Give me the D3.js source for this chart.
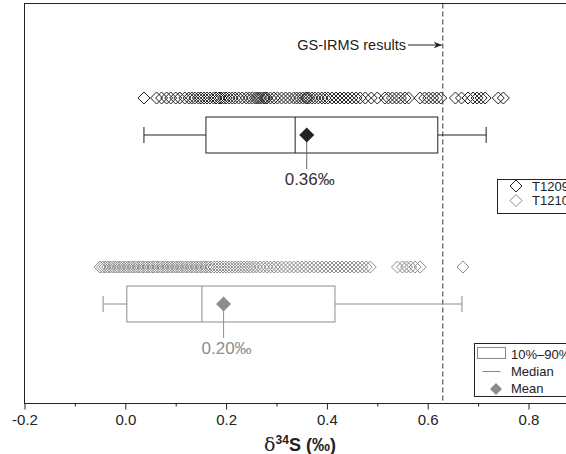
<!DOCTYPE html>
<html>
<head>
<meta charset="utf-8">
<script src="https://cdn.jsdelivr.net/npm/d3@7"></script>
<style>
  html, body { margin: 0; padding: 0; background: #fff; overflow: hidden; }
  svg { display: block; font-family: "Liberation Sans", Arial, sans-serif; }
</style>
</head>
<body>
<div id="chart"></div>
<script>
// delta34S values (per mil)
var groups = ["T1209", "T1210"];

var t1209 = [0.037, 0.062, 0.072, 0.082, 0.09, 0.1, 0.108, 0.118, 0.126, 0.132, 0.138, 0.145, 0.15,
  0.156, 0.162, 0.168, 0.175, 0.18, 0.18, 0.186, 0.19, 0.195, 0.2, 0.206, 0.212, 0.218, 0.225, 0.232,
  0.24, 0.246, 0.252, 0.258, 0.262, 0.266, 0.27, 0.275, 0.278, 0.281, 0.288, 0.295, 0.302, 0.31, 0.318,
  0.326, 0.334, 0.34, 0.346, 0.352, 0.358, 0.36, 0.364, 0.37, 0.376, 0.383, 0.39, 0.396, 0.402, 0.41,
  0.418, 0.426, 0.434, 0.442, 0.45, 0.458, 0.466, 0.476, 0.488, 0.5, 0.515, 0.522, 0.53, 0.538, 0.546,
  0.555, 0.562, 0.585, 0.594, 0.602, 0.61, 0.618, 0.626, 0.655, 0.667, 0.68, 0.69, 0.698, 0.706, 0.714,
  0.74, 0.75];

var t1210 = [-0.05, -0.045, -0.04, -0.035, -0.03, -0.025, -0.02, -0.015, -0.01, -0.005, 0.0, 0.005,
  0.01, 0.015, 0.02, 0.025, 0.03, 0.035, 0.04, 0.045, 0.05, 0.055, 0.06, 0.065, 0.07, 0.075, 0.08,
  0.085, 0.09, 0.095, 0.1, 0.105, 0.11, 0.115, 0.12, 0.125, 0.13, 0.135, 0.14, 0.145, 0.15, 0.155,
  0.16, 0.165, 0.17, 0.176, 0.182, 0.188, 0.194, 0.2, 0.206, 0.212, 0.218, 0.224, 0.23, 0.236, 0.242,
  0.248, 0.254, 0.26, 0.267, 0.274, 0.281, 0.288, 0.295, 0.302, 0.31, 0.318, 0.326, 0.334, 0.342,
  0.35, 0.358, 0.366, 0.374, 0.382, 0.39, 0.398, 0.406, 0.414, 0.422, 0.43, 0.438, 0.446, 0.454,
  0.462, 0.47, 0.478, 0.486, 0.54, 0.55, 0.558, 0.566, 0.575, 0.585, 0.67];

// box stats: whisker low, 10%, median, 90%, whisker high, mean
var boxLow = [0.037, -0.044];
var boxQ10 = [0.16, 0.003];
var boxMedian = [0.337, 0.152];
var boxQ90 = [0.62, 0.416];
var boxHigh = [0.716, 0.668];
var boxMean = [0.36, 0.195];
var meanLabels = ["0.36‰", "0.20‰"];
var groupColors = ["#222222", "#8c8c8c"];

var gsIrms = 0.63;
var xTicks = [-0.2, 0.0, 0.2, 0.4, 0.6, 0.8];
var xMinor = [-0.1, 0.1, 0.3, 0.5, 0.7];

var W = 566, H = 454;
var plotLeft = 24.5, plotTop = 3.5, plotBottom = 403.5;

var x = d3.scaleLinear().domain([-0.2, 0.9]).range([plotLeft, plotLeft + 1.1 * 504]);
var y = d3.scalePoint().domain(groups).range([135, 304]);

var svg = d3.select("#chart").append("svg")
  .attr("width", W)
  .attr("height", H);

function diamond(r) {
  return "M0," + (-r) + "L" + r + ",0L0," + r + "L" + (-r) + ",0Z";
}

// frame
svg.append("rect")
  .attr("x", plotLeft).attr("y", plotTop)
  .attr("width", x.range()[1] - plotLeft + 10).attr("height", plotBottom - plotTop)
  .attr("fill", "none").attr("stroke", "#222").attr("stroke-width", 1);

// GS-IRMS line
svg.append("line")
  .attr("x1", x(gsIrms)).attr("x2", x(gsIrms))
  .attr("y1", plotTop).attr("y2", plotBottom)
  .attr("stroke", "#333").attr("stroke-width", 1)
  .attr("stroke-dasharray", "5,3");

svg.append("defs").append("marker")
  .attr("id", "arrow").attr("viewBox", "0 0 10 10")
  .attr("refX", 10).attr("refY", 5)
  .attr("markerWidth", 8).attr("markerHeight", 8)
  .attr("markerUnits", "userSpaceOnUse")
  .attr("orient", "auto")
  .append("path").attr("d", "M0,1L10,5L0,9L3,5Z").attr("fill", "#222");

svg.append("text")
  .attr("x", 406).attr("y", 50)
  .attr("text-anchor", "end")
  .style("font-size", "14.5px").attr("fill", "#222")
  .text("GS-IRMS results");

svg.append("line")
  .attr("x1", 408).attr("x2", x(gsIrms) - 1)
  .attr("y1", 45).attr("y2", 45)
  .attr("stroke", "#222").attr("stroke-width", 1)
  .attr("marker-end", "url(#arrow)");

// scatter rows
[t1209, t1210].forEach(function(vals, i) {
  var g = svg.append("g");
  g.selectAll("path").data(vals).enter().append("path")
    .attr("d", diamond(6))
    .attr("transform", function(d) { return "translate(" + x(d) + "," + (y(groups[i]) - 37) + ")"; })
    .attr("fill", "none")
    .attr("stroke", groupColors[i])
    .attr("stroke-width", 1);
});

// boxes
groups.forEach(function(name, i) {
  var cy = y(name), c = groupColors[i], h = 18;
  var g = svg.append("g").attr("stroke", c).attr("stroke-width", 1).attr("fill", "none");
  g.append("line").attr("x1", x(boxLow[i])).attr("x2", x(boxQ10[i])).attr("y1", cy).attr("y2", cy);
  g.append("line").attr("x1", x(boxQ90[i])).attr("x2", x(boxHigh[i])).attr("y1", cy).attr("y2", cy);
  g.append("line").attr("x1", x(boxLow[i])).attr("x2", x(boxLow[i])).attr("y1", cy - 8).attr("y2", cy + 8);
  g.append("line").attr("x1", x(boxHigh[i])).attr("x2", x(boxHigh[i])).attr("y1", cy - 8).attr("y2", cy + 8);
  g.append("rect").attr("x", x(boxQ10[i])).attr("y", cy - h)
    .attr("width", x(boxQ90[i]) - x(boxQ10[i])).attr("height", 2 * h);
  g.append("line").attr("x1", x(boxMedian[i])).attr("x2", x(boxMedian[i])).attr("y1", cy - h).attr("y2", cy + h);
  // leader to mean label
  g.append("line").attr("x1", x(boxMean[i])).attr("x2", x(boxMean[i]))
    .attr("y1", cy + 6).attr("y2", cy + 34).attr("stroke", i ? c : "#666");
  svg.append("path").attr("d", diamond(7.5))
    .attr("transform", "translate(" + x(boxMean[i]) + "," + cy + ")")
    .attr("fill", c);
  svg.append("text")
    .attr("x", x(boxMean[i]) + 3).attr("y", cy + 50)
    .attr("text-anchor", "middle")
    .style("font-size", "17px")
    .attr("fill", i ? c : "#333")
    .text(meanLabels[i]);
});

// x axis (plain hyphen for negatives, like the original)
var fmt = d3.format(".1f");
var xAxis = d3.axisBottom(x).tickValues(xTicks)
  .tickFormat(function(d) { return fmt(d).replace("−", "-"); })
  .tickSize(6).tickPadding(5);
var ax = svg.append("g").attr("transform", "translate(0," + plotBottom + ")").call(xAxis);
ax.select(".domain").remove();
ax.selectAll("line").attr("stroke", "#222");
ax.selectAll("text").style("font-size", "15px").attr("fill", "#222")
  .style("font-family", "'Liberation Sans', Arial, sans-serif");
var axm = svg.append("g").attr("transform", "translate(0," + plotBottom + ")")
  .call(d3.axisBottom(x).tickValues(xMinor).tickFormat("").tickSize(3));
axm.select(".domain").remove();
axm.selectAll("line").attr("stroke", "#222");

var title = svg.append("text")
  .attr("x", 300).attr("y", 451)
  .attr("text-anchor", "middle")
  .style("font-size", "18px").attr("fill", "#222");
title.append("tspan").style("font-family", "'DejaVu Serif', serif").style("font-size", "19px").text("δ");
title.append("tspan").attr("dy", -7).style("font-size", "12px").style("font-weight", "bold").text("34");
title.append("tspan").attr("dy", 7).style("font-weight", "bold").text("S (‰)");

// legend 1
var lg1 = svg.append("g").attr("transform", "translate(497.5,179.5)");
lg1.append("rect").attr("width", 90).attr("height", 34)
  .attr("fill", "#fff").attr("stroke", "#222").attr("stroke-width", 1);
groups.forEach(function(name, i) {
  lg1.append("path").attr("d", diamond(6))
    .attr("transform", "translate(18.5," + (6.5 + i * 14.5) + ")")
    .attr("fill", "none").attr("stroke", groupColors[i]);
  lg1.append("text").attr("x", 34.5).attr("y", 11.5 + i * 14)
    .style("font-size", "13px").attr("fill", "#222").text(name);
});

// legend 2
var lg2 = svg.append("g").attr("transform", "translate(474.5,343.5)");
lg2.append("rect").attr("width", 110).attr("height", 53)
  .attr("fill", "#fff").attr("stroke", "#222").attr("stroke-width", 1);
lg2.append("rect").attr("x", 3).attr("y", 4).attr("width", 28).attr("height", 11)
  .attr("fill", "none").attr("stroke", "#888");
lg2.append("text").attr("x", 36.5).attr("y", 15.5).style("font-size", "13px").attr("fill", "#222").text("10%–90%");
lg2.append("line").attr("x1", 8).attr("x2", 26).attr("y1", 28).attr("y2", 28).attr("stroke", "#888");
lg2.append("text").attr("x", 36.5).attr("y", 32.5).style("font-size", "13px").attr("fill", "#222").text("Median");
lg2.append("path").attr("d", diamond(6)).attr("transform", "translate(21.5,45.5)").attr("fill", "#8c8c8c");
lg2.append("text").attr("x", 36.5).attr("y", 49.5).style("font-size", "13px").attr("fill", "#222").text("Mean");
</script>
</body>
</html>
